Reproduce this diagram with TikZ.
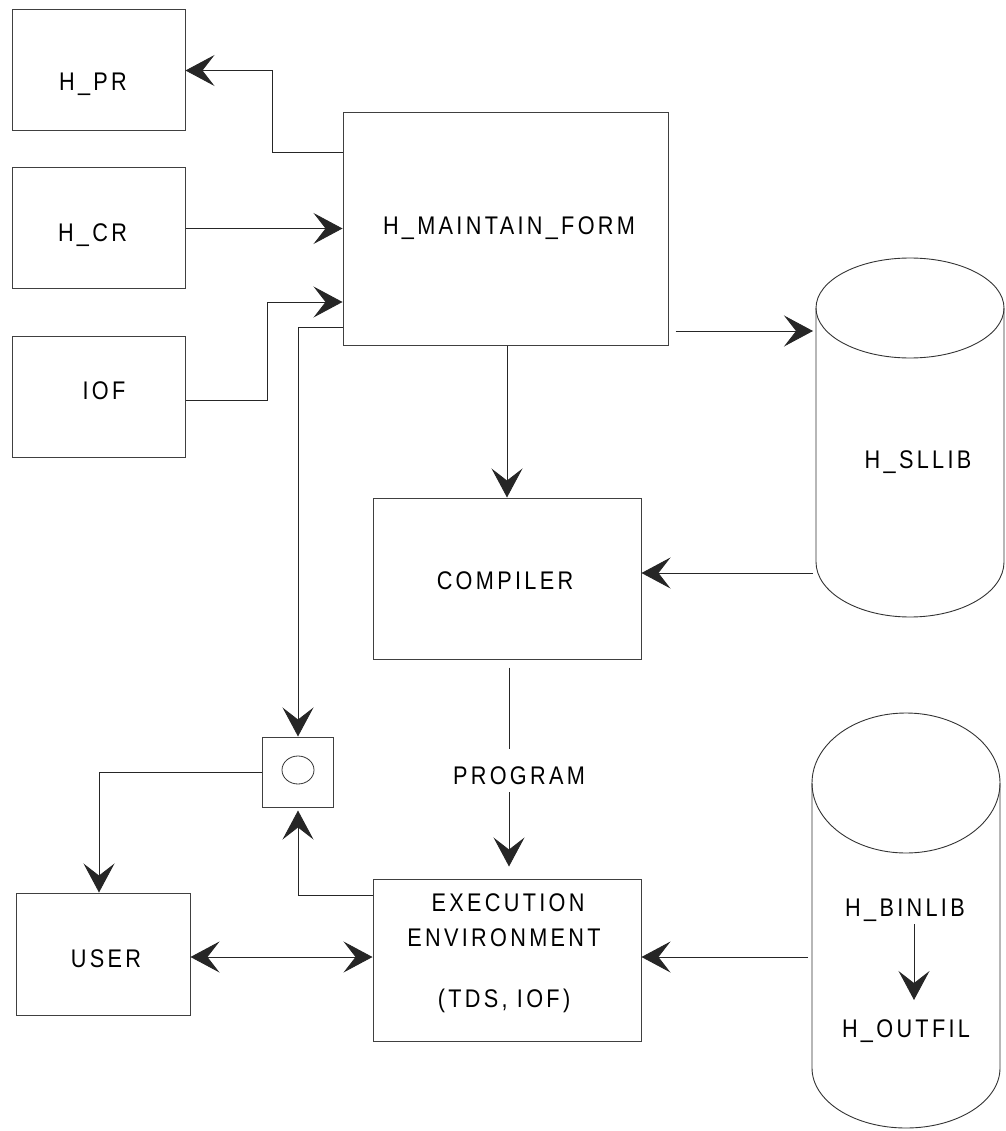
\documentclass[tikz,border=0pt]{standalone}
\usepackage{fontspec}
\newfontfamily\lblfont[FakeStretch=0.85,LetterSpace=13]{Liberation Sans}
\usetikzlibrary{arrows.meta,calc}
\begin{document}
\begin{tikzpicture}[x=1pt,y=-1pt,
  box/.style={draw=black!75,line width=1pt,rectangle,inner sep=0pt},
  shapeline/.style={draw=black!80,line width=0.9pt},
  lbl/.style={font=\lblfont\fontsize{25.5}{30}\selectfont,inner sep=0pt,anchor=base},
  conn/.style={draw=black!85,line width=0.9pt},
  tip/.tip={Stealth[length=29pt,width=31pt,inset=12pt]},
  arr/.style={conn,-tip},
  darr/.style={conn,tip-tip}]
\useasboundingbox (0,0) rectangle (1005,1131);

% boxes
\node[box,minimum width=173pt,minimum height=121pt] (hpr) at (98.5,70.5) {};
\node[box,minimum width=173pt,minimum height=121pt] (hcr) at (98.5,228.5) {};
\node[box,minimum width=173pt,minimum height=121pt] (iof) at (98.5,396.5) {};
\node[box,minimum width=325pt,minimum height=232pt] (main) at (505.5,229) {};
\node[box,minimum width=268pt,minimum height=161pt] (comp) at (507,578.5) {};
\node[box,minimum width=268pt,minimum height=162pt] (exec) at (507,960) {};
\node[box,minimum width=174pt,minimum height=122pt] (user) at (103,954) {};
\node[box,minimum width=71pt,minimum height=70pt] (sw) at (297.5,772) {};
\draw[shapeline,line width=0.8pt] (298,770) ellipse [x radius=16pt,y radius=14pt];

% cylinders
\draw[shapeline] (910,308) ellipse [x radius=94pt,y radius=50pt];
\draw[shapeline] (816,308) -- (816,562) arc[start angle=180,end angle=360,x radius=94pt,y radius=55pt] -- (1004,308);
\draw[shapeline] (906,783) ellipse [x radius=94pt,y radius=70pt];
\draw[shapeline] (812,783) -- (812,1068) arc[start angle=180,end angle=360,x radius=94pt,y radius=60pt] -- (1000,783);

% labels
\node[lbl] (thpr) at (93,91) {H\_PR};
\node[lbl] (thcr) at (92.5,242) {H\_CR};
\node[lbl] (tiof) at (104,399) {IOF};
\node[lbl] (tmain) at (509,235) {H\_MAINTAIN\_FORM};
\node[lbl] (tcomp) at (505,589) {COMPILER};
\node[lbl] (tsl) at (918,468) {H\_SLLIB};
\node[lbl] (tuser) at (106,967) {USER};
\node[lbl] (tprog) at (519,784) {PROGRAM};
\node[lbl] (tex1) at (508,911) {EXECUTION};
\node[lbl] (tex2) at (504,946) {ENVIRONMENT};
\node[lbl] (tex3) at (504,1007) {(TDS, IOF)};
\node[lbl] (tbin) at (905,916) {H\_BINLIB};
\node[lbl] (tout) at (906,1037) {H\_OUTFIL};

% connectors
\coordinate (k1) at (272,152);
\draw[arr] (main.west |- k1) -- (k1) |- (hpr.east);

\draw[arr] (hcr.east) -- (main.west |- hcr.east);

\coordinate (k2a) at (267,400);
\coordinate (k2) at (267,302);
\draw[arr] (iof.east |- k2a) -- (k2a) -- (k2) -- (main.west |- k2);

\coordinate (k3) at (298,327);
\draw[arr] (main.west |- k3) -- (k3) -- (k3 |- sw.north);

\coordinate (k4) at (99,772);
\draw[arr] (sw.west) -- (k4) -- (k4 |- user.north);

\coordinate (k5) at (298,895);
\draw[arr,shorten >=3pt] (exec.west |- k5) -- (k5) -- (k5 |- sw.south);

\coordinate (k6) at (0,957);
\draw[darr] (user.east |- k6) -- (exec.west |- k6);

\coordinate (k7) at (507,0);
\draw[arr] (main.south -| k7) -- (comp.north -| k7);

\coordinate (pa) at (509,749);
\coordinate (pb) at (509,792);
\draw[conn,shorten <=8pt] (comp.south -| pa) -- (pa);
\draw[arr,shorten >=12pt] (pb) -- (exec.north -| pb);

\coordinate (sla) at (813,331);
\draw[arr,shorten <=7pt] (main.east |- sla) -- (sla);

\coordinate (slb) at (813,573);
\draw[arr] (slb) -- (comp.east |- slb);

\coordinate (bla) at (808,957);
\draw[arr] (bla) -- (exec.east |- bla);

\coordinate (b1) at (914,924);
\coordinate (b2) at (914,1000);
\draw[arr] (b1) -- (b2);
\end{tikzpicture}
\end{document}
